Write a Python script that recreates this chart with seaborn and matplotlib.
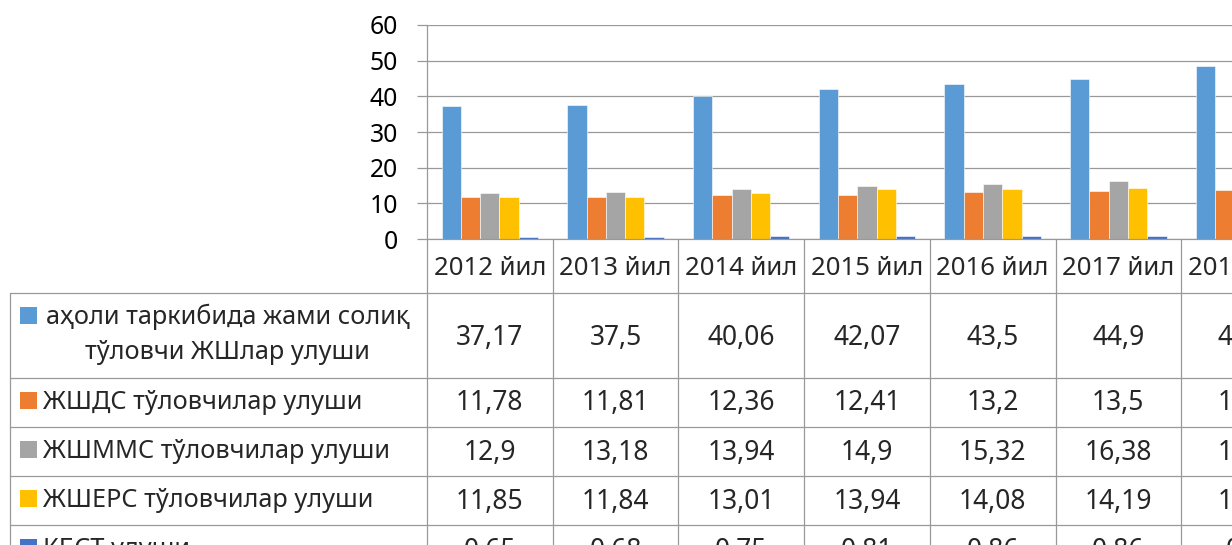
import matplotlib
matplotlib.use("Agg")
import matplotlib.pyplot as plt
import seaborn as sns
import pandas as pd
from matplotlib.lines import Line2D
from matplotlib.patches import Rectangle
from matplotlib.transforms import blended_transform_factory

# ---------------- data ----------------
years = ["2012 йил", "2013 йил", "2014 йил", "2015 йил", "2016 йил", "2017 йил", "2018 йил"]
series_names = [
    "аҳоли таркибида жами солиқ тўловчи ЖШлар улуши",
    "ЖШДС тўловчилар улуши",
    "ЖШММС тўловчилар улуши",
    "ЖШЕРС тўловчилар улуши",
    "КБСТ улуши",
]
aholi = [37.17, 37.5, 40.06, 42.07, 43.5, 44.9, 48.5]
jshds = [11.78, 11.81, 12.36, 12.41, 13.2, 13.5, 13.8]
jshmms = [12.9, 13.18, 13.94, 14.9, 15.32, 16.38, 17.2]
jshers = [11.85, 11.84, 13.01, 13.94, 14.08, 14.19, 14.5]
kbst = [0.65, 0.68, 0.75, 0.81, 0.86, 0.86, 0.9]
colors = ["#5B9BD5", "#ED7D31", "#A5A5A5", "#FFC000", "#4472C4"]

all_series = [aholi, jshds, jshmms, jshers, kbst]
rows = []
for name, vals in zip(series_names, all_series):
    for y, v in zip(years, vals):
        rows.append({"year": y, "series": name, "value": v})
df = pd.DataFrame(rows)

# ---------------- style ----------------
sns.set_style("white")
plt.rcParams["font.family"] = ["Noto Sans", "DejaVu Sans"]

W, H = 1232, 545
fig = plt.figure(figsize=(W / 100, H / 100), dpi=100)

def fx(x):
    return x / W

def fy(y):
    return 1 - y / H

col_w = 125.7
ax_left, ax_top, ax_bot = 427, 25, 239
ax = fig.add_axes([fx(ax_left), fy(ax_bot), len(years) * col_w / W, (ax_bot - ax_top) / H])

sns.barplot(data=df, x="year", y="value", hue="series", palette=colors,
            hue_order=series_names, order=years, width=0.7675, saturation=1,
            legend=False, ax=ax, edgecolor="white", linewidth=0.4)
ax.set_xlim(-0.5, len(years) - 0.5)
ax.set_ylim(0, 60)
ax.set_yticks(range(0, 61, 10))
ax.set_xlabel("")
ax.set_ylabel("")
ax.set_xticks([])

grid_c = "#999999"
ax.yaxis.grid(True, color=grid_c, linewidth=0.9)
ax.set_axisbelow(True)
for s in ["top", "right"]:
    ax.spines[s].set_visible(False)
for s in ["left", "bottom"]:
    ax.spines[s].set_color(grid_c)
    ax.spines[s].set_linewidth(0.9)
ax.tick_params(axis="y", length=7.2, width=0.9, color=grid_c, pad=13.5,
               labelsize=17.8, labelcolor="black", left=True)

# ---------------- data table ----------------
tr_x = blended_transform_factory(ax.transData, fig.transFigure)
line_kw = dict(color=grid_c, linewidth=0.9)

row_bounds = [292.7, 377.7, 426.7, 476, 525]
for yb in row_bounds:
    fig.add_artist(Line2D([fx(10), fx(1400)], [fy(yb), fy(yb)], transform=fig.transFigure, **line_kw))
fig.add_artist(Line2D([fx(10), fx(10)], [fy(292.7), fy(600)], transform=fig.transFigure, **line_kw))
for k in range(len(years) + 1):
    xk = k - 0.5
    fig.add_artist(Line2D([xk, xk], [fy(ax_bot), fy(600)], transform=tr_x, **line_kw))

vfs = 19.0   # values
hfs = 18.5   # header
lfs = 18.2   # row labels

for i, y in enumerate(years):
    fig.text(i, fy(275), y, transform=tr_x, ha="center", va="baseline", fontsize=hfs)

val_baselines = [345, 410, 460, 509, 558]
for r, vals in enumerate(all_series):
    for i, v in enumerate(vals):
        s = ("%g" % v).replace(".", ",")
        fig.text(i, fy(val_baselines[r]), s, transform=tr_x, ha="center", va="baseline", fontsize=vfs)

key_bottoms = [324, 408.7, 457.7, 506.7, 555.7]
for r in range(5):
    fig.add_artist(Rectangle((fx(20), fy(key_bottoms[r])), 16.7 / W, 16.7 / H,
                             transform=fig.transFigure, facecolor=colors[r], edgecolor="none"))

fig.text(fx(227.5), fy(324.3), "аҳоли таркибида жами солиқ", ha="center", va="baseline", fontsize=lfs)
fig.text(fx(227.5), fy(359.3), "тўловчи ЖШлар улуши", ha="center", va="baseline", fontsize=lfs)
label_baselines = [409.3, 458, 506.7, 556]
for r in range(1, 5):
    fig.text(fx(43), fy(label_baselines[r - 1]), series_names[r], ha="left", va="baseline", fontsize=lfs)

fig.savefig("out.png", dpi=100)
